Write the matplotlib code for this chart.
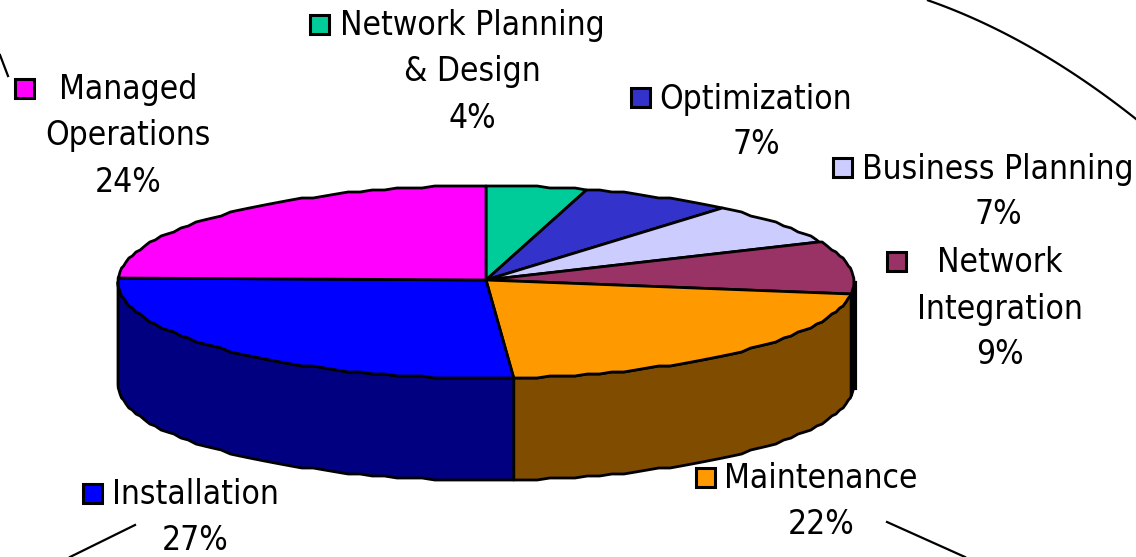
import numpy as np
from matplotlib import pyplot as plt
from matplotlib.patches import Polygon, Rectangle

labels = ['Network Planning\n& Design', 'Optimization', 'Business Planning',
          'Network\nIntegration', 'Maintenance', 'Installation', 'Managed\nOperations']
percents = [4, 7, 7, 9, 22, 27, 24]
# slice sizes as drawn, the 3D view in the original shifts them a bit from the labels
shares = [4.4, 6.7, 6.9, 9.0, 21.8, 26.7, 24.5]
top_colors = ['#00CC99', '#3333CC', '#CCCCFF', '#993366', '#FF9900', '#0000FF', '#FF00FF']
side_colors = ['#006B50', '#1A1A6B', '#6B6B80', '#4D1A33', '#804D00', '#000080', '#800080']

# pixel layout of the pie
cx, cy = 486, 282
rx, ry = 368, 96
apex_y = 280
depth = 102

# label text centre x, first line y, legend key x
label_pos = [(472, 26, 319), (756, 99, 640), (998, 169, 842),
             (1000, 263, 896), (821, 479, 705), (195, 495, 92), (128, 90, 24)]

border_pieces = [
    ([0, 8], [55, 76]),
    ([70, 135], [557, 525]),
    ([887, 965], [522, 557]),
]
# upper right piece of the border ellipse
arc_x = [928, 980, 1047, 1113, 1136]
arc_y = [0, 22, 57, 100, 120]

angle_grid = np.radians(np.arange(0, 361, 2))


def rim(a, b):
    t = np.r_[a, angle_grid[(angle_grid > a) & (angle_grid < b)], b]
    x = cx + rx * np.sin(t)
    y = cy - ry * np.cos(t)
    # the original outline is a little chunky
    return x, np.round(y / 2) * 2


def main():
    fig = plt.figure(figsize=(11.36, 5.57), dpi=100)
    ax = fig.add_axes([0, 0, 1, 1])
    ax.set_xlim(0, 1136)
    ax.set_ylim(557, 0)
    ax.axis('off')

    edges = np.cumsum([0] + shares) / sum(shares) * 2 * np.pi

    # side walls, only the front half of the rim shows
    for i in range(len(shares)):
        a = max(edges[i], np.pi / 2)
        b = min(edges[i + 1], 3 * np.pi / 2)
        if b <= a:
            continue
        x, y = rim(a, b)
        pts = np.column_stack([np.r_[x, x[::-1]], np.r_[y, y[::-1] + depth]])
        ax.add_patch(Polygon(pts, fc=side_colors[i], ec='black', lw=2.0, joinstyle='round'))

    # top face
    for i in range(len(shares)):
        x, y = rim(edges[i], edges[i + 1])
        pts = np.column_stack([np.r_[cx, x], np.r_[apex_y, y]])
        ax.add_patch(Polygon(pts, fc=top_colors[i], ec='black', lw=2.0, joinstyle='round'))

    # heavier right edge of the wall
    ax.plot([855, 855], [283, 388], color='black', lw=3)

    # labels with legend keys
    for i in range(len(shares)):
        tx, ty, kx = label_pos[i]
        lines = labels[i].split('\n') + ['%d%%' % percents[i]]
        for j, line in enumerate(lines):
            ax.text(tx, ty + j * 46, line, ha='center', va='center', fontsize=24,
                    color='black', fontstretch='condensed')
        ax.add_patch(Rectangle((kx - 9.5, ty - 11), 19, 19, fc=top_colors[i], ec='black', lw=2.2))

    # pieces of the outer border ellipse showing between the labels
    for bx, by in border_pieces:
        ax.plot(bx, by, color='black', lw=1.6)
    c = np.polyfit(arc_x, arc_y, 2)
    xs = np.linspace(arc_x[0], arc_x[-1], 50)
    ax.plot(xs, np.polyval(c, xs), color='black', lw=1.6)

    fig.savefig('out.png', dpi=100)


if __name__ == "__main__":
    main()
